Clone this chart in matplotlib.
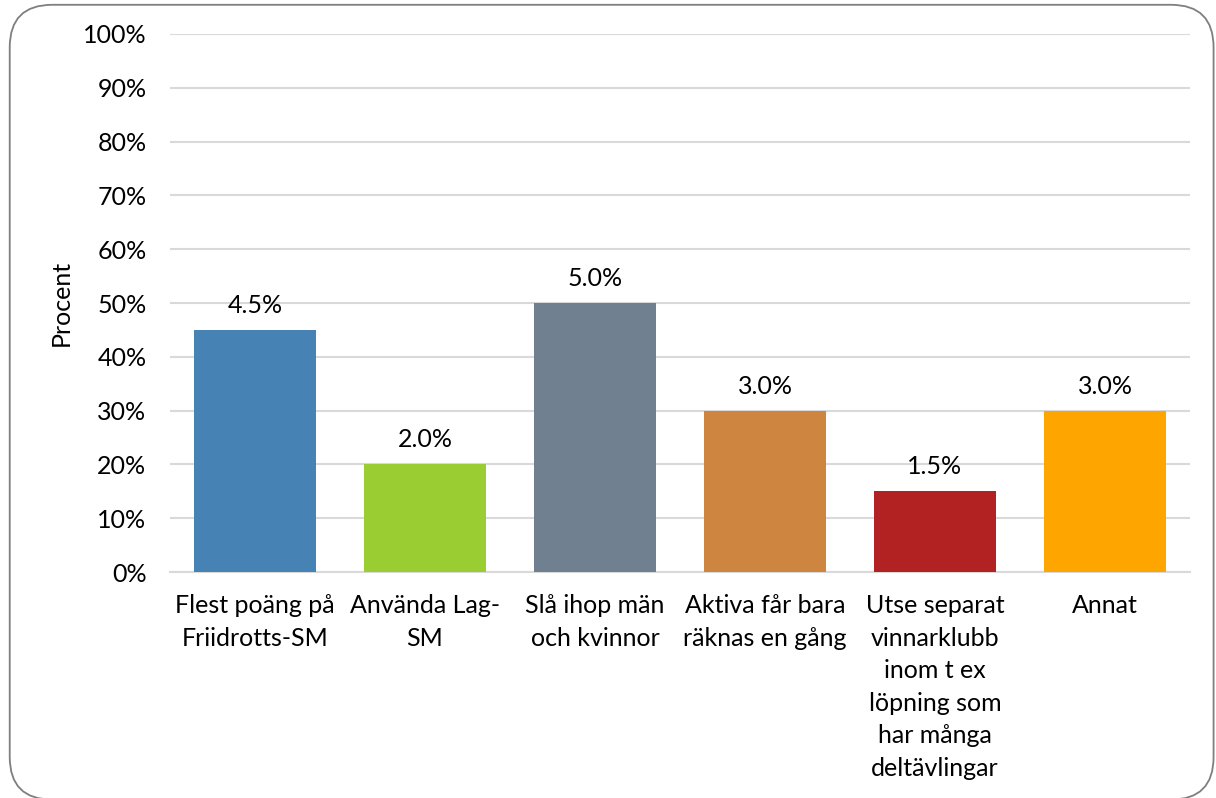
import matplotlib
matplotlib.use("Agg")
import matplotlib.pyplot as plt
from matplotlib.patches import FancyBboxPatch
from matplotlib.ticker import FuncFormatter

plt.rcParams['font.family'] = ['Lato', 'DejaVu Sans']

# data
categories = ["Flest poäng på\nFriidrotts-SM", "Använda Lag-\nSM",
              "Slå ihop män\noch kvinnor", "Aktiva får bara\nräknas en gång",
              "Utse separat\nvinnarklubb\ninom t ex\nlöpning som\nhar många\ndeltävlingar",
              "Annat"]
values = [45, 20, 50, 30, 15, 30]
value_labels = ["4.5%", "2.0%", "5.0%", "3.0%", "1.5%", "3.0%"]
colors = ["#4682B4", "#9ACD32", "#708090", "#CD853F", "#B22222", "#FFA500"]

fs = 18

fig = plt.figure(figsize=(12.16, 7.98), dpi=100)
ax = fig.add_axes([0.1398, 0.2832, 0.8388, 0.6742])

x = range(len(categories))
bars = ax.bar(x, values, width=0.72, color=colors, zorder=3)
for b, lab in zip(bars, value_labels):
    ax.text(b.get_x() + b.get_width() / 2, b.get_height() + 2.4, lab,
            ha='center', va='bottom', fontsize=fs, color='black')

ax.set_xlim(-0.5, len(categories) - 0.5)
ax.set_ylim(0, 100)
ax.set_yticks(range(0, 101, 10))
ax.yaxis.set_major_formatter(FuncFormatter(lambda v, p: "%d%%" % v))
ax.set_xticks(list(x))
ax.set_xticklabels(categories, fontsize=fs, linespacing=1.5, va='top')
ax.tick_params(axis='y', labelsize=fs, length=0, pad=17)
ax.tick_params(axis='x', length=0, pad=16)
ax.grid(axis='y', color='#D9D9D9', linewidth=1.5, zorder=0)
for s in ['top', 'right', 'left']:
    ax.spines[s].set_visible(False)
ax.spines['bottom'].set_color('#D9D9D9')
ax.spines['bottom'].set_linewidth(1.5)
ax.set_ylabel("Procent", fontsize=fs, labelpad=7)

# rounded frame round the chart
frame = FancyBboxPatch((0.008, -0.002), 0.99, 0.996,
                       boxstyle="round,pad=0,rounding_size=0.035",
                       transform=fig.transFigure, facecolor='none',
                       edgecolor='#7F7F7F', linewidth=1.3,
                       mutation_aspect=1216 / 798)
fig.patches.append(frame)

fig.savefig("out.png", dpi=100)
